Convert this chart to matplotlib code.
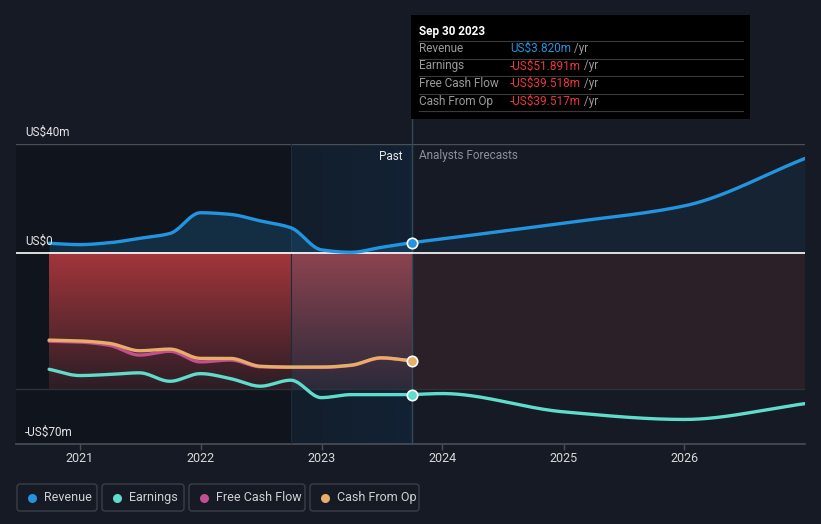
import numpy as np
import pandas as pd
import matplotlib
matplotlib.use('Agg')
import matplotlib.pyplot as plt
import matplotlib.dates as mdates
from matplotlib.patches import FancyBboxPatch, Rectangle

plt.rcParams['font.family'] = ['Roboto', 'DejaVu Sans']

# Valores (US$ milhões)
past_dates = ['2020-09-30', '2020-12-31', '2021-03-31', '2021-06-30', '2021-09-30',
              '2021-12-31', '2022-03-31', '2022-06-30', '2022-09-30', '2022-12-31',
              '2023-03-31', '2023-06-30', '2023-09-30']
revenue_past = [3.6, 3.1, 3.8, 5.4, 7.2, 14.8, 14.2, 11.8, 9.3, 1.2, 0.3, 2.1, 3.82]
earnings_past = [-42.6, -44.9, -44.5, -43.9, -47.0, -44.2, -46.0, -48.8, -46.6,
                 -53.0, -51.9, -51.9, -51.891]
fcf_past = [-32.3, -32.6, -33.8, -37.4, -36.0, -39.9, -39.2, -41.7, -41.9,
            -41.9, -41.2, -38.5, -39.518]
cfo_past = [-31.9, -32.2, -33.1, -35.8, -35.2, -38.6, -38.6, -41.5, -41.8,
            -41.8, -41.1, -38.4, -39.517]

fc_dates = ['2023-09-30', '2023-12-31', '2024-12-31', '2025-12-31', '2026-12-31']
revenue_fc = [3.82, 5.2, 11.0, 17.3, 34.7]
earnings_fc = [-51.891, -51.5, -58.2, -61.0, -55.2]

years = [2021, 2022, 2023, 2024, 2025, 2026]
legend_names = ['Revenue', 'Earnings', 'Free Cash Flow', 'Cash From Op']

BG = '#151a24'
REV = '#2394df'
EARN = '#5fdccb'
FCF = '#c0508f'
CFO = '#e8ae68'


def smooth(dates, values, n=300):
    # curva monotona (estilo d3 monotoneX) so para desenhar
    x = mdates.date2num(pd.to_datetime(dates))
    y = np.asarray(values, float)
    h = np.diff(x)
    d = np.diff(y) / h
    m = np.zeros_like(y)
    m[0], m[-1] = d[0], d[-1]
    for k in range(1, len(y) - 1):
        if d[k - 1] * d[k] <= 0:
            m[k] = 0
        else:
            w1 = 2 * h[k] + h[k - 1]
            w2 = h[k] + 2 * h[k - 1]
            m[k] = (w1 + w2) / (w1 / d[k - 1] + w2 / d[k])
    xs = np.linspace(x[0], x[-1], n)
    i = np.clip(np.searchsorted(x, xs) - 1, 0, len(x) - 2)
    t = (xs - x[i]) / h[i]
    ys = ((2 * t**3 - 3 * t**2 + 1) * y[i] + (t**3 - 2 * t**2 + t) * h[i] * m[i]
          + (-2 * t**3 + 3 * t**2) * y[i + 1] + (t**3 - t**2) * h[i] * m[i + 1])
    return xs, ys


def vgrad(top, bottom, n=256):
    top = np.array(matplotlib.colors.to_rgb(top))
    bottom = np.array(matplotlib.colors.to_rgb(bottom))
    t = np.linspace(0, 1, n)[:, None]
    return (top * (1 - t) + bottom * t)[:, None, :]


d = lambda s: mdates.date2num(pd.Timestamp(s))
x_left, x_right = d('2020-06-22'), d('2026-12-31')
x_start, x_band, x_now = d(past_dates[0]), d('2022-09-30'), d(past_dates[-1])

fig = plt.figure(figsize=(8.21, 5.24), dpi=100, facecolor=BG)
ax = fig.add_axes([16 / 821, 80 / 524, 789 / 821, 300 / 524])
ax.set_facecolor(BG)
for s in ax.spines.values():
    s.set_visible(False)

# fundo: passado mais escuro e faixa do ultimo ano
ax.add_patch(Rectangle((x_left, -70), x_band - x_left, 110, fc='black', alpha=0.2, lw=0, zorder=0))
band = np.zeros((1, 64, 4))
band[..., :3] = matplotlib.colors.to_rgb('#0e2c48')
band[..., 3] = np.linspace(0.22, 0.45, 64)
ax.imshow(band, extent=[x_band, x_now, -70, 40], aspect='auto', zorder=0.5)

# area de prejuizo
ax.imshow(vgrad('#a3363b', '#2c1d26'), extent=[x_start, x_band, -50, 0], aspect='auto', zorder=1)
ax.imshow(vgrad('#8e4350', '#2b2a3a'), extent=[x_band, x_now, -50, 0], aspect='auto', zorder=1)
ax.add_patch(Rectangle((x_now, -50), x_right - x_now, 50, fc='#2b1f28', lw=0, zorder=1))

ax.axhline(40, color='#4a4f57', lw=1, zorder=2)
ax.axhline(-50, color='#2c313a', lw=1, zorder=2)
ax.axhline(-70, color='#4a4f57', lw=1.2, zorder=2, clip_on=False)
ax.axvline(x_band, color='#1c2c3c', lw=0.8, zorder=2)
ax.axvline(x_now, ymin=0, ymax=(444 - 119) / 300, color='#34485c', lw=1, zorder=2, clip_on=False)

# receita
rx, ry = smooth(past_dates, revenue_past)
fx, fy = smooth(fc_dates, revenue_fc)
ax.fill_between(rx, 0, ry, color=REV, alpha=0.2, lw=0, zorder=3)
ax.fill_between(fx, 0, fy, color=REV, alpha=0.08, lw=0, zorder=3)
ax.axhline(0, color='white', lw=1.2, zorder=4)

ax.plot(*smooth(past_dates, fcf_past), color=FCF, lw=2.4, zorder=5, solid_capstyle='round')
ax.plot(*smooth(past_dates, cfo_past), color=CFO, lw=2.4, zorder=6, solid_capstyle='round')
ax.plot(*smooth(past_dates, earnings_past), color=EARN, lw=2.4, zorder=6, solid_capstyle='round')
ax.plot(*smooth(fc_dates, earnings_fc), color=EARN, lw=2.4, zorder=6, solid_capstyle='round')
ax.plot(rx, ry, color=REV, lw=2.4, zorder=6, solid_capstyle='round')
ax.plot(fx, fy, color=REV, lw=2.4, zorder=6, solid_capstyle='round')

for v, c in [(revenue_past[-1], REV), (earnings_past[-1], EARN), (cfo_past[-1], CFO)]:
    ax.plot([x_now], [v], 'o', ms=7.5, mfc=c, mec='white', mew=1.2, zorder=8, clip_on=False)

ax.set_xlim(x_left, x_right)
ax.set_ylim(-70, 40)
ax.set_yticks([])
ax.set_xticks([d(f'{y}-01-01') for y in years])
ax.set_xticklabels([str(y) for y in years])
ax.tick_params(axis='x', colors='#4a4f57', length=4, width=1, pad=2, labelcolor='#d8d8d8', labelsize=9)

# camada de texto em pixels
ov = fig.add_axes([0, 0, 1, 1], zorder=10)
ov.set_xlim(0, 821)
ov.set_ylim(524, 0)
ov.axis('off')
ov.patch.set_visible(False)

ov.text(25, 132, 'US$40m', color='#e6e6e6', fontsize=8.5, va='center')
ov.text(25, 241, 'US$0', color='#e6e6e6', fontsize=8.5, va='center')
ov.text(25, 432, '-US$70m', color='#e6e6e6', fontsize=8.5, va='center')
ov.text(403, 156, 'Past', color='#e6e6e6', fontsize=8.5, va='center', ha='right')
ov.text(419, 156, 'Analysts Forecasts', color='#8a8f98', fontsize=8.5, va='center')

# tooltip
ov.add_patch(Rectangle((411, 15), 339, 104, fc='black', lw=0))
ov.text(419, 31, 'Sep 30 2023', color='white', fontsize=8.5, fontweight='bold', va='center')
for yy in [41, 58.5, 76, 93.5, 111]:
    ov.plot([419, 743], [yy, yy], color='#3a3a3a', lw=0.8)
tip_rows = [('Revenue', 'US$3.820m', REV, 48.5), ('Earnings', '-US$51.891m', '#e8383d', 66),
            ('Free Cash Flow', '-US$39.518m', '#e8383d', 83.5), ('Cash From Op', '-US$39.517m', '#e8383d', 101)]
for name, val, c, yy in tip_rows:
    ov.text(419, yy, name, color='#9a9a9a', fontsize=8.5, va='center')
    t = ov.text(510, yy, val, color=c, fontsize=8.5, va='center')
    ov.annotate(' /yr', xycoords=t, xy=(1, 0.5), va='center', color='#9a9a9a', fontsize=8.5)

# legenda
boxes = [(17, 97), (102, 184), (189, 305), (310, 419)]
for (x0, x1), name, c in zip(boxes, legend_names, [REV, EARN, FCF, CFO]):
    ov.add_patch(FancyBboxPatch((x0, 484), x1 - x0, 27, boxstyle='round,pad=0,rounding_size=3',
                                fc='none', ec='#3a3f48', lw=1))
    ov.plot([x0 + 15], [497.5], 'o', ms=6.5, color=c, mec='none')
    ov.text(x0 + 27, 497.5, name, color='#d0d0d0', fontsize=9, va='center')

fig.savefig('out.png', dpi=100, facecolor=BG)
